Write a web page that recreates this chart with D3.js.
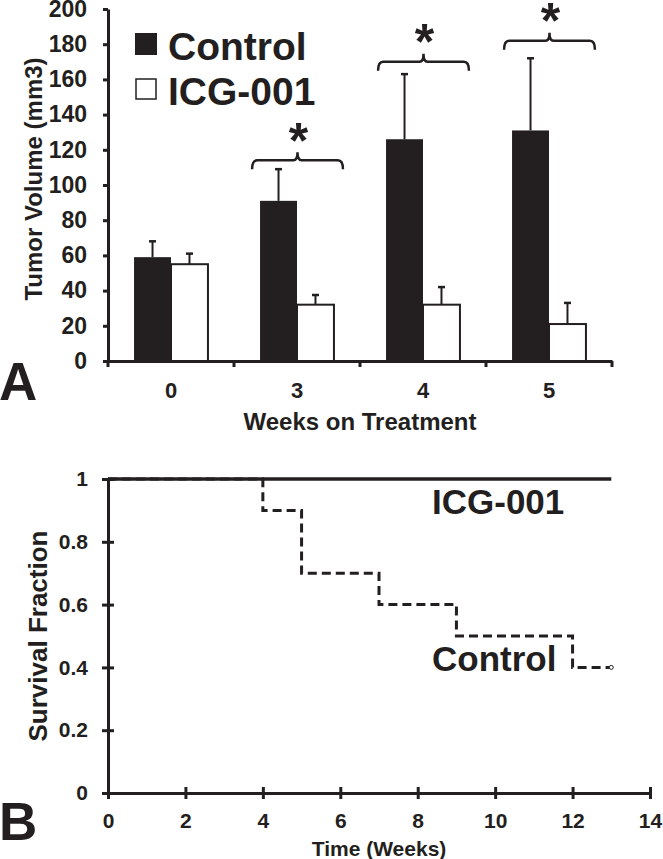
<!DOCTYPE html>
<html><head><meta charset="utf-8">
<script src="https://cdn.jsdelivr.net/npm/d3@7"></script>
<style>
html,body{margin:0;padding:0;background:#fff;}
svg{display:block;font-family:"Liberation Sans",Arial,Helvetica,sans-serif;font-weight:bold;}
</style></head><body>
<svg id="chart" width="663" height="859"></svg>
<script>
// ---------- Panel A data ----------
const weeks = ["0", "3", "4", "5"];
const seriesNames = ["Control", "ICG-001"];
const controlMean = [59, 91, 126, 131];
const controlErr  = [9, 18, 37, 41];
const icgMean     = [55, 32, 32, 21];
const icgErr      = [6, 5.5, 10, 12];
const bracketLevel = [null, 114, 170, 182];   // significance bracket heights (mm3)
const volumeTicks = [0, 20, 40, 60, 80, 100, 120, 140, 160, 180, 200];

// ---------- Panel B data ----------
const controlTime = [0, 4, 5, 7, 9, 12, 13];
const controlSurv = [1, 0.9, 0.7, 0.6, 0.5, 0.4, 0.4];
const icgTime = [0, 13];
const icgSurv = [1, 1];
const timeTicks = [0, 2, 4, 6, 8, 10, 12, 14];
const survTicks = [0, 0.2, 0.4, 0.6, 0.8, 1];

const INK = "#231f20";
const svg = d3.select("#chart");

// ================= Panel A =================
const A = {left: 108, right: 612, top: 9, bottom: 361};
const x0 = d3.scaleBand().domain(weeks).range([A.left, A.right]).padding(0);
const x1 = d3.scaleBand().domain(seriesNames).range([0, x0.bandwidth()])
  .paddingInner(0).paddingOuter(0.705);
const yA = d3.scaleLinear().domain([0, 200]).range([A.bottom, A.top]);

const barData = [];
weeks.forEach((w, i) => {
  barData.push({week: w, series: "Control", v: controlMean[i], e: controlErr[i]});
  barData.push({week: w, series: "ICG-001", v: icgMean[i], e: icgErr[i]});
});

const gA = svg.append("g");
// error bars
const eb = gA.append("g").selectAll("g").data(barData).join("g")
  .attr("stroke", INK).attr("stroke-width", 2);
eb.append("line")
  .attr("x1", d => x0(d.week) + x1(d.series) + x1.bandwidth() / 2)
  .attr("x2", d => x0(d.week) + x1(d.series) + x1.bandwidth() / 2)
  .attr("y1", d => yA(d.v)).attr("y2", d => yA(d.v + d.e));
eb.append("line")
  .attr("x1", d => x0(d.week) + x1(d.series) + x1.bandwidth() / 2 - 3.5)
  .attr("x2", d => x0(d.week) + x1(d.series) + x1.bandwidth() / 2 + 3.5)
  .attr("y1", d => yA(d.v + d.e)).attr("y2", d => yA(d.v + d.e))
  .attr("stroke-width", 2.5);
// bars
gA.append("g").selectAll("rect").data(barData).join("rect")
  .attr("x", d => x0(d.week) + x1(d.series))
  .attr("y", d => yA(d.v))
  .attr("width", x1.bandwidth())
  .attr("height", d => yA(0) - yA(d.v))
  .attr("fill", d => d.series === "Control" ? INK : "#fff")
  .attr("stroke", INK)
  .attr("stroke-width", d => d.series === "Control" ? 0 : 2);

// y axis
const yAxA = gA.append("g").attr("transform", `translate(${A.left},0)`)
  .call(d3.axisLeft(yA).tickValues(volumeTicks).tickSize(5).tickSizeOuter(0).tickPadding(16));
yAxA.select(".domain").attr("stroke", INK).attr("stroke-width", 3);
yAxA.selectAll(".tick line").attr("stroke", INK).attr("stroke-width", 3);
yAxA.selectAll(".tick text").attr("fill", INK).style("font-size", "23px")
  .style("font-family", "inherit").style("font-weight", "bold");

// x axis (labels at band centers, ticks at band boundaries)
const xAxA = gA.append("g").attr("transform", `translate(0,${A.bottom})`)
  .call(d3.axisBottom(x0).tickSize(0).tickSizeOuter(0).tickPadding(21));
xAxA.select(".domain").attr("stroke", INK).attr("stroke-width", 3);
xAxA.selectAll(".tick text").attr("fill", INK).style("font-size", "22px")
  .style("font-family", "inherit").style("font-weight", "bold");
const bounds = weeks.map(w => x0(w)).concat([x0(weeks[weeks.length - 1]) + x0.bandwidth()]);
xAxA.selectAll("line.bnd").data(bounds).join("line").attr("class", "bnd")
  .attr("x1", d => d).attr("x2", d => d).attr("y1", 0).attr("y2", 6)
  .attr("stroke", INK).attr("stroke-width", 3);

// axis titles
gA.append("text").attr("transform", `translate(42,179) rotate(-90)`)
  .attr("text-anchor", "middle").attr("fill", INK).style("font-size", "24px")
  .text("Tumor Volume (mm3)");
gA.append("text").attr("x", (A.left + A.right) / 2).attr("y", 430)
  .attr("text-anchor", "middle").attr("fill", INK).style("font-size", "24px")
  .text("Weeks on Treatment");
gA.append("text").attr("x", -1).attr("y", 400).attr("fill", INK)
  .style("font-size", "53px").text("A");

// significance brackets
weeks.forEach((w, i) => {
  if (bracketLevel[i] == null) return;
  const xl = x0(w) + x1(seriesNames[0]) - 8;
  const xr = x0(w) + x1(seriesNames[1]) + x1.bandwidth() + 9;
  const xm = (xl + xr) / 2;
  const yb = yA(bracketLevel[i]);
  const p = d3.path();
  p.moveTo(xl, yb + 9);
  p.quadraticCurveTo(xl, yb, xl + 5, yb);
  p.lineTo(xm - 4, yb);
  p.quadraticCurveTo(xm, yb, xm, yb - 8);
  p.quadraticCurveTo(xm, yb, xm + 4, yb);
  p.lineTo(xr - 5, yb);
  p.quadraticCurveTo(xr, yb, xr, yb + 9);
  gA.append("path").attr("d", p.toString()).attr("fill", "none")
    .attr("stroke", INK).attr("stroke-width", 2.5);
  gA.append("text").attr("x", xm + 1).attr("y", yb - 31 + 0.57 * 50)
    .attr("text-anchor", "middle").attr("fill", INK).style("font-size", "50px").text("*");
});

// legend
const leg = gA.append("g").selectAll("g").data(seriesNames).join("g")
  .attr("transform", (d, i) => `translate(135,${33 + i * 45})`);
leg.append("rect").attr("x", 1).attr("y", 1).attr("width", 20).attr("height", 20)
  .attr("fill", (d, i) => i === 0 ? INK : "#fff").attr("stroke", INK)
  .attr("stroke-width", (d, i) => i === 0 ? 2 : 1.5);
leg.append("text").attr("x", 33).attr("y", 27).attr("fill", INK)
  .style("font-size", "39px").text(d => d);

// ================= Panel B =================
const B = {left: 108, right: 650, top: 479, bottom: 793};
const xB = d3.scaleLinear().domain([0, 14]).range([B.left, B.right]);
const yB = d3.scaleLinear().domain([0, 1]).range([B.bottom, B.top]);
const gB = svg.append("g");

const line = d3.line().x(d => xB(d[0])).y(d => yB(d[1])).curve(d3.curveStepAfter);
gB.append("path").attr("d", line(controlTime.map((t, i) => [t, controlSurv[i]])))
  .attr("fill", "none").attr("stroke", INK).attr("stroke-width", 3)
  .attr("stroke-dasharray", "9,5");
gB.append("path").attr("d", line(icgTime.map((t, i) => [t, icgSurv[i]])))
  .attr("fill", "none").attr("stroke", INK).attr("stroke-width", 3.4);
const lastI = controlTime.length - 1;
gB.append("circle").attr("cx", xB(controlTime[lastI])).attr("cy", yB(controlSurv[lastI]))
  .attr("r", 2).attr("fill", "#fff").attr("stroke", INK).attr("stroke-width", 1);

const yAxB = gB.append("g").attr("transform", `translate(${B.left},0)`)
  .call(d3.axisLeft(yB).tickValues(survTicks).tickSize(6).tickSizeOuter(0).tickPadding(14)
    .tickFormat(d => (d === 0 || d === 1) ? String(d) : d.toFixed(1)));
yAxB.select(".domain").attr("stroke", INK).attr("stroke-width", 3);
yAxB.selectAll(".tick line").attr("x1", 6).attr("stroke", INK).attr("stroke-width", 3);
yAxB.selectAll(".tick text").attr("fill", INK).style("font-size", "21px")
  .style("font-family", "inherit").style("font-weight", "bold");

const xAxB = gB.append("g").attr("transform", `translate(0,${B.bottom})`)
  .call(d3.axisBottom(xB).tickValues(timeTicks).tickSize(6).tickSizeOuter(0).tickPadding(14));
xAxB.select(".domain").attr("stroke", INK).attr("stroke-width", 3);
xAxB.selectAll(".tick line").attr("y1", -6).attr("stroke", INK).attr("stroke-width", 3);
xAxB.selectAll(".tick text").attr("fill", INK).style("font-size", "21px")
  .style("font-family", "inherit").style("font-weight", "bold");

gB.append("text").attr("transform", `translate(47,636) rotate(-90)`)
  .attr("text-anchor", "middle").attr("fill", INK).style("font-size", "26px")
  .text("Survival Fraction");
gB.append("text").attr("x", (B.left + B.right) / 2).attr("y", 856)
  .attr("text-anchor", "middle").attr("fill", INK).style("font-size", "21px")
  .text("Time (Weeks)");
gB.append("text").attr("x", -1).attr("y", 840).attr("fill", INK)
  .style("font-size", "53px").text("B");

// series labels
gB.append("text").attr("x", 432).attr("y", 514).attr("fill", INK)
  .style("font-size", "35px").text(seriesNames[1]);
gB.append("text").attr("x", 432).attr("y", 671).attr("fill", INK)
  .style("font-size", "35px").text(seriesNames[0]);
</script>
</body></html>
